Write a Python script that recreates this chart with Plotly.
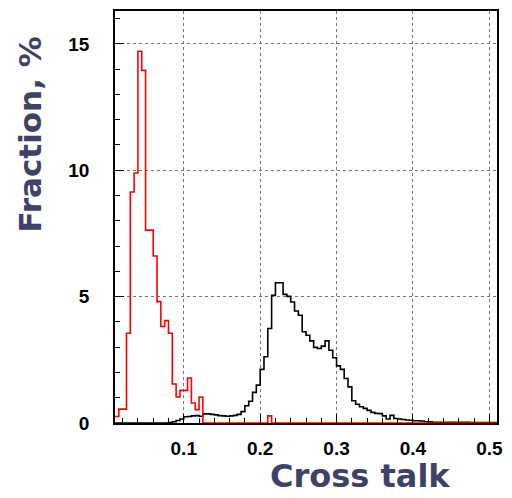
import plotly.graph_objects as go

# histogram binning (100 bins of 0.005 from 0.01 to 0.51)
bin_lo = 0.01
bin_width = 0.005

# fraction, % per bin
red_counts = [
    0.26, 0.55, 0.55, 3.55, 9.14, 9.89, 14.71, 13.95, 7.63, 7.63,
    6.61, 4.80, 3.82, 4.05, 3.55, 1.54, 1.03, 1.29, 1.29, 1.78,
    0.79, 0.53, 1.03, 0, 0, 0, 0, 0, 0, 0,
    0, 0, 0, 0, 0, 0, 0, 0, 0, 0,
    0.28, 0, 0, 0, 0, 0, 0, 0, 0, 0,
    0, 0, 0, 0, 0, 0, 0, 0, 0, 0,
    0, 0, 0, 0, 0, 0, 0, 0, 0, 0,
    0, 0, 0, 0, 0, 0, 0, 0, 0, 0,
    0, 0, 0, 0, 0, 0, 0, 0, 0, 0,
    0, 0, 0, 0, 0, 0, 0, 0, 0, 0,
]

black_counts = [
    0, 0, 0, 0, 0, 0, 0, 0, 0, 0,
    0, 0, 0, 0, 0.02, 0.05, 0.10, 0.16, 0.25, 0.26,
    0.28, 0.29, 0.27, 0.36, 0.36, 0.34, 0.32, 0.29, 0.28, 0.27,
    0.28, 0.30, 0.34, 0.45, 0.68, 0.86, 1.21, 1.50, 2.12, 2.62,
    3.74, 5.05, 5.55, 5.55, 5.09, 5.01, 4.79, 4.43, 4.26, 3.61,
    3.47, 3.25, 2.99, 2.95, 3.04, 3.25, 2.88, 2.58, 2.26, 2.12,
    1.76, 1.43, 0.88, 0.74, 0.64, 0.58, 0.50, 0.42, 0.38, 0.37,
    0.28, 0.16, 0.30, 0.18, 0.16, 0.14, 0.12, 0.11, 0.09, 0.09,
    0.08, 0.05, 0.05, 0.03, 0.03, 0.03, 0.03, 0.03, 0.03, 0.03,
    0.03, 0.03, 0.03, 0.02, 0.02, 0.02, 0.02, 0.02, 0.02, 0.02,
]

x_ticks = [0.1, 0.2, 0.3, 0.4, 0.5]
y_ticks = [0, 5, 10, 15]

title_color = "#3f4168"
font_name = "Liberation Sans, Arial, sans-serif"
title_font = "DejaVu Sans, sans-serif"


def step_xy(counts):
    # left edges plus the final right edge, last value repeated for hv steps
    edges = [bin_lo + i * bin_width for i in range(len(counts) + 1)]
    return edges, list(counts) + [counts[-1]]


fig = go.Figure()
for counts, color in [(black_counts, "black"), (red_counts, "red")]:
    xs, ys = step_xy(counts)
    fig.add_trace(go.Scatter(x=xs, y=ys, mode="lines", line_shape="hv",
                             line=dict(color=color, width=1.6), hoverinfo="skip"))

axis_common = dict(
    showline=True, linecolor="black", linewidth=1.5, mirror=True,
    ticks="inside", ticklen=9, tickwidth=1.3, tickcolor="black",
    showgrid=True, gridcolor="#777777", gridwidth=1, griddash="dot",
    zeroline=False,
    tickfont=dict(family=font_name, size=19, color="black", weight="bold"),
)

fig.update_xaxes(range=[0.01, 0.51], tickvals=x_ticks, ticklabelstandoff=7,
                 minor=dict(dtick=0.02, tick0=0, ticks="inside", ticklen=5,
                            tickcolor="black", showgrid=False),
                 **axis_common)
fig.update_yaxes(range=[0, 16.3], tickvals=y_ticks, ticklabelstandoff=20,
                 minor=dict(dtick=1, tick0=0, ticks="inside", ticklen=5,
                            tickcolor="black", showgrid=False),
                 **axis_common)

fig.add_annotation(text="Cross talk", xref="paper", yref="paper", x=0.642, y=-0.1804,
                   showarrow=False, xanchor="center", yanchor="bottom",
                   font=dict(family=title_font, size=32, color=title_color, weight="bold"))
fig.add_annotation(text="Fraction, %", xref="paper", yref="paper", x=-0.223, y=0.70,
                   showarrow=False, textangle=-90, xanchor="center", yanchor="middle",
                   font=dict(family=title_font, size=31, color=title_color, weight="bold"))

fig.update_layout(
    width=512, height=498,
    margin=dict(l=115, r=9, t=10, b=75),
    plot_bgcolor="white", paper_bgcolor="white",
    showlegend=False,
)

# drop the default body margin so the figure sits at the top-left corner
fig.write_html("out.html", config={"displayModeBar": False},
               post_script="document.body.style.margin='0';document.body.style.overflow='hidden';")
